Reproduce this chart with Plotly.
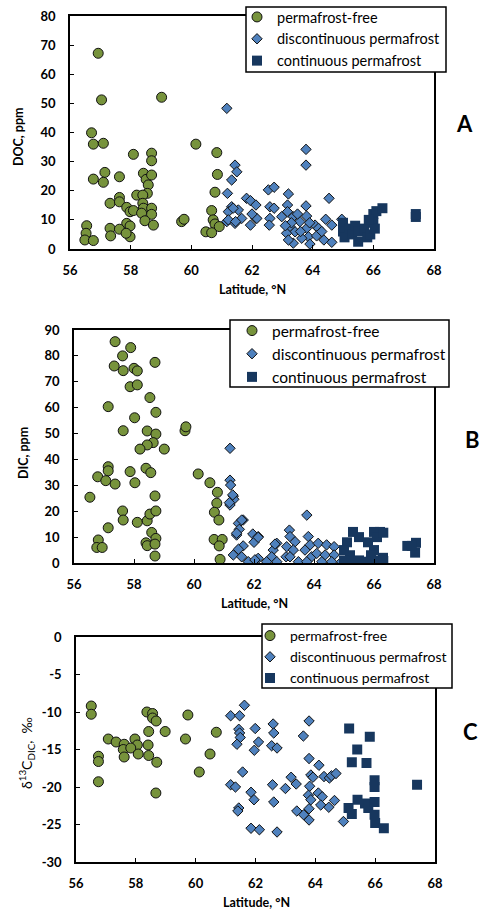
import plotly.graph_objects as go

# ---------------- Panel A: DOC ----------------
lat_free_A = [56.93,57.04,59.02,56.71,56.77,57.10,58.09,58.69,58.69,60.15,60.84,60.86,60.78,57.15,56.77,57.10,57.63,58.42,58.51,58.69,58.58,58.55,58.20,58.40,57.63,57.32,57.63,57.87,57.98,58.09,58.40,58.42,58.36,58.69,58.69,58.47,58.75,57.87,57.98,57.32,57.63,57.34,57.98,57.85,56.55,56.53,56.49,56.77,59.68,59.76,60.67,60.72,60.78,60.92,60.48,60.67]
doc_free = [67.2,51.2,52.1,39.9,36.0,36.3,32.5,32.9,30.3,36.0,33.1,25.6,19.5,26.3,24.0,22.9,24.8,26.0,23.9,25.4,22.0,19.1,18.5,18.5,17.7,15.7,16.2,14.3,12.8,13.2,15.7,14.0,12.3,14.0,11.9,9.7,8.2,8.8,7.9,7.1,6.8,4.5,4.2,5.4,8.0,5.4,3.1,2.9,9.4,10.2,13.2,10.0,8.6,7.7,5.9,5.6]

lat_disc_A = [61.17,63.78,63.78,61.44,61.50,61.33,61.19,62.54,62.73,63.20,64.54,61.82,61.95,62.13,61.33,61.22,61.55,61.66,61.17,61.44,62.13,61.95,62.59,62.73,62.59,62.57,62.98,63.17,63.17,63.36,63.78,63.80,63.58,63.25,63.42,63.14,63.80,63.86,63.91,63.36,63.20,63.64,64.08,64.19,64.43,64.63,64.96,64.37,64.63,64.13,61.38,61.22,61.46,62.16,63.30,63.50,63.10,63.60,64.30,63.90,62.00]
doc_disc = [48.3,34.2,28.8,28.8,26.5,23.7,19.1,20.3,21.2,18.9,17.4,17.4,16.6,15.1,14.5,12.8,13.4,10.5,9.4,8.8,10.5,8.2,14.5,14.0,10.5,8.2,11.1,15.1,12.8,11.1,14.8,11.3,9.4,7.7,5.9,5.4,7.1,4.2,1.7,2.0,3.1,3.7,8.2,7.1,10.2,8.2,10.2,3.1,2.3,4.5,14.0,10.0,9.4,10.5,9.0,12.0,8.0,6.0,6.0,9.0,12.0]

lat_cont_A = [65.00,65.00,65.05,65.20,65.30,65.40,65.50,65.50,65.70,65.80,65.90,66.00,66.00,66.05,66.10,66.30,65.85,67.40,67.40]
doc_cont = [9,6,4,7,5,8,2.5,6,7,4,5,12,9,7,13,14,10,11,12]

# ---------------- Panel B: DIC ----------------
lat_free_B = [57.37,57.89,57.62,57.34,57.64,58.00,58.11,58.70,57.87,58.11,58.53,57.14,58.73,58.02,57.64,58.44,58.73,58.64,58.44,58.20,59.01,59.70,59.73,57.14,57.14,56.79,57.06,57.37,57.87,58.03,58.40,58.56,56.53,58.70,57.62,57.64,57.14,58.11,58.44,58.53,58.73,56.81,56.76,56.94,58.40,58.44,58.59,58.73,58.70,58.70,60.14,60.53,60.78,60.76,60.68,60.83,60.67,60.94,60.84,60.87]
dic_free = [85.5,83.2,80.0,76.1,74.3,75.2,74.2,77.5,68.1,68.8,63.9,60.4,58.2,56.1,51.1,51.0,49.8,46.5,45.6,44.0,44.0,51.1,52.6,37.2,35.6,33.3,31.8,30.5,35.3,31.0,36.6,34.9,25.4,25.9,20.1,16.6,13.6,15.7,16.3,18.9,20.1,8.9,6.0,6.0,7.8,6.7,11.8,9.5,7.3,2.7,34.4,31.0,27.3,23.1,19.6,16.6,9.1,9.1,6.6,1.4]

lat_disc_B = [61.20,61.20,61.22,61.31,61.33,61.20,63.76,61.64,61.48,61.51,61.42,61.96,62.14,62.00,61.64,61.48,61.31,61.59,61.81,62.14,62.76,62.64,62.59,62.76,63.07,63.18,63.20,63.37,63.09,63.31,63.20,63.48,63.81,63.87,63.70,63.92,63.76,64.14,64.42,64.67,64.09,64.37,64.67,64.26,64.59,64.92,62.03,62.42,61.29,61.18,61.59,61.42,62.14,62.70]
dic_disc = [44.3,32.0,30.1,25.9,24.6,22.4,18.5,16.6,15.3,13.0,10.8,11.2,10.2,8.0,6.6,5.3,3.1,2.4,0.5,1.8,7.6,5.0,2.4,0.5,2.4,12.7,10.2,8.2,6.3,5.0,2.4,0.5,10.2,7.0,5.0,2.4,0.5,7.6,7.0,6.3,3.7,3.1,3.1,0.5,0.5,0.5,1.2,0.5,26.3,23.3,16.6,11.5,9.9,7.3]

lat_cont_B = [65.30,65.10,65.00,65.50,65.20,66.00,66.20,65.80,66.00,66.30,66.00,65.90,65.50,65.70,66.10,65.30,65.00,66.31,66.31,67.11,67.40,67.37,67.26]
dic_cont = [12,8,5,10,3,12,12,8,5,2,1,3,1,0.5,10,0.5,1,11.7,0.8,6.6,7.8,4.0,6.6]

# ---------------- Panel C: d13C-DIC ----------------
lat_free_C = [56.51,56.51,56.75,56.75,56.75,57.08,57.34,57.61,57.58,57.61,57.97,58.05,57.83,58.08,58.37,58.56,58.56,58.68,58.43,58.41,58.43,58.70,58.67,58.98,59.74,59.66,60.69,60.48,60.12]
d13c_free = [-9.2,-10.3,-15.9,-16.6,-19.3,-13.6,-14.0,-14.3,-15.0,-16.0,-13.6,-14.4,-14.8,-15.6,-10.0,-10.2,-10.8,-11.2,-12.6,-14.4,-15.8,-16.7,-20.8,-12.6,-10.4,-13.6,-12.7,-15.6,-18.0]

lat_disc_C = [61.63,61.17,61.47,61.44,61.47,61.49,61.38,61.99,62.10,61.96,62.59,62.61,62.54,62.72,63.79,63.60,61.57,61.17,61.33,61.85,61.95,61.44,61.41,61.85,62.13,62.72,62.57,62.61,63.00,63.19,63.36,63.38,63.61,63.79,63.79,63.81,63.79,64.12,63.85,63.92,63.77,63.85,64.10,64.23,64.18,64.45,64.29,64.47,64.54,64.69,64.64,64.94]
d13c_disc = [-9.1,-10.5,-10.5,-12.3,-12.8,-13.4,-14.3,-12.2,-14.0,-15.1,-11.6,-12.8,-14.5,-14.8,-11.2,-13.2,-18.0,-19.7,-20.0,-20.7,-21.7,-22.8,-23.2,-25.5,-25.7,-26.0,-19.7,-22.0,-20.2,-18.7,-19.6,-23.2,-23.7,-24.4,-22.9,-19.9,-16.2,-17.1,-18.4,-18.7,-21.1,-21.7,-20.8,-21.3,-22.4,-22.7,-18.6,-18.8,-18.5,-18.2,-21.8,-24.6]

lat_cont_C = [65.13,65.82,65.40,65.22,65.71,65.98,65.98,67.40,65.41,65.11,65.22,65.66,65.77,65.98,65.98,66.00,66.29]
d13c_cont = [-12.2,-13.3,-15.0,-16.7,-16.8,-19.1,-20.0,-19.7,-21.7,-22.8,-23.6,-22.2,-22.8,-22.0,-23.7,-24.8,-25.5]

series_names = ["permafrost-free", "discontinuous permafrost", "continuous permafrost"]
x_ticks = [56, 58, 60, 62, 64, 66, 68]
c_ticks = [0, -5, -10, -15, -20, -25, -30]

GREEN = "#77933C"
BLUE = "#4F81BD"
NAVY = "#17375E"
FONT = "Lato"

def styles():
    return [
        dict(symbol="circle", size=10, color=GREEN, line=dict(color="#111111", width=1)),
        dict(symbol="diamond", size=8, color=BLUE, line=dict(color="#111111", width=1)),
        dict(symbol="square", size=10, color=NAVY, line=dict(color=NAVY, width=0)),
    ]

fig = go.Figure()
panels = [
    ("x", "y", "legend", [(lat_free_A, doc_free), (lat_disc_A, doc_disc), (lat_cont_A, doc_cont)]),
    ("x2", "y2", "legend2", [(lat_free_B, dic_free), (lat_disc_B, dic_disc), (lat_cont_B, dic_cont)]),
    ("x3", "y3", "legend3", [(lat_free_C, d13c_free), (lat_disc_C, d13c_disc), (lat_cont_C, d13c_cont)]),
]
for xa, ya, lg, data in panels:
    for i, ((xs, ys), st) in enumerate(zip(data, styles())):
        fig.add_trace(go.Scatter(x=xs, y=ys, mode="markers", name=series_names[i],
                                 marker=st, xaxis=xa, yaxis=ya, legend=lg, showlegend=True))

tickfont = dict(family=FONT, size=13, color="black", weight="bold")
def xax(dom, anchor):
    return dict(domain=dom, anchor=anchor, range=[56, 68], tickvals=x_ticks,
                showline=True, linecolor="black", linewidth=1.5, mirror=True,
                ticks="inside", ticklen=4, tickwidth=1, tickcolor="black", automargin=False,
                showgrid=False, zeroline=False, tickfont=tickfont, ticklabelstandoff=9)
def yax(dom, anchor, rng, dt):
    return dict(domain=dom, anchor=anchor, range=rng, dtick=dt, automargin=False,
                showline=True, linecolor="black", linewidth=1.5, mirror=True,
                ticks="inside", ticklen=4, tickwidth=1, tickcolor="black",
                showgrid=False, zeroline=False, tickfont=tickfont, ticklabelstandoff=10)

H = 912.0
W = 480.0
def py(v): return 1 - v / H
def px(v): return v / W

legend_common = dict(bgcolor="rgba(0,0,0,0)", borderwidth=0,
                     xanchor="left", yanchor="top", itemwidth=30,
                     tracegroupgap=0, traceorder="normal")

yaxis3 = yax([py(862), py(637)], "x3", [-30, 0], 5)
yaxis3.update(tickvals=c_ticks, ticktext=[str(v) for v in c_ticks])

fig.update_layout(
    width=480, height=912, margin=dict(l=0, r=0, t=0, b=0),
    paper_bgcolor="white", plot_bgcolor="white",
    font=dict(family=FONT, color="black"),
    xaxis=xax([px(70), px(434)], "y"),
    yaxis=yax([py(249), py(16)], "x", [0, 80], 10),
    xaxis2=xax([px(74), px(434)], "y2"),
    yaxis2=yax([py(563), py(330)], "x2", [0, 90], 10),
    xaxis3=xax([px(76), px(435)], "y3"),
    yaxis3=yaxis3,
    legend=dict(x=px(237), y=py(1), font=dict(family=FONT, size=14.5, color="black"), **legend_common),
    legend2=dict(x=px(232), y=py(314), font=dict(family=FONT, size=15.5, color="black"), **legend_common),
    legend3=dict(x=px(250), y=py(620), font=dict(family=FONT, size=14, color="black"), **legend_common),
    showlegend=True,
)

# legend frames (white boxes with black border, like the original chart)
shapes = []
for x0, y0, x1, y1 in [(246, 7, 446, 72), (230, 320, 449, 387), (262, 624, 452, 688)]:
    shapes.append(dict(type="rect", xref="paper", yref="paper", x0=px(x0), x1=px(x1),
                       y0=py(y1), y1=py(y0), fillcolor="white",
                       line=dict(color="black", width=1.5), layer="above"))
fig.update_layout(shapes=shapes)

ann = []
titlefont = dict(family=FONT, size=12.5, color="black", weight="bold")
for xc, yc in [(252, 289), (254, 603), (256, 902)]:
    ann.append(dict(text="Latitude, °N", x=px(xc), y=py(yc), xref="paper", yref="paper",
                    showarrow=False, font=titlefont, xanchor="center", yanchor="middle"))
ann.append(dict(text="DOC, ppm", x=px(18), y=py(137), xref="paper", yref="paper", textangle=-90,
                showarrow=False, font=titlefont, xanchor="center", yanchor="middle"))
ann.append(dict(text="DIC, ppm", x=px(23), y=py(453), xref="paper", yref="paper", textangle=-90,
                showarrow=False, font=titlefont, xanchor="center", yanchor="middle"))
ann.append(dict(text="δ<sup>13</sup>C<sub>DIC</sub>,  ‰", x=px(26), y=py(753), xref="paper", yref="paper",
                textangle=-90, showarrow=False, font=dict(family=FONT, size=14, color="black"),
                xanchor="center", yanchor="middle"))
for letter, xc, yc in [("A", 464, 123), ("B", 472, 440), ("C", 470, 731)]:
    ann.append(dict(text=letter, x=px(xc), y=py(yc), xref="paper", yref="paper", showarrow=False,
                    font=dict(family=FONT, size=22, color="black", weight="bold"),
                    xanchor="center", yanchor="middle"))
fig.update_layout(annotations=ann)

fig.write_html("out.html", config={"displayModeBar": False},
               post_script="document.body.style.margin='0';document.body.style.overflow='hidden';")
